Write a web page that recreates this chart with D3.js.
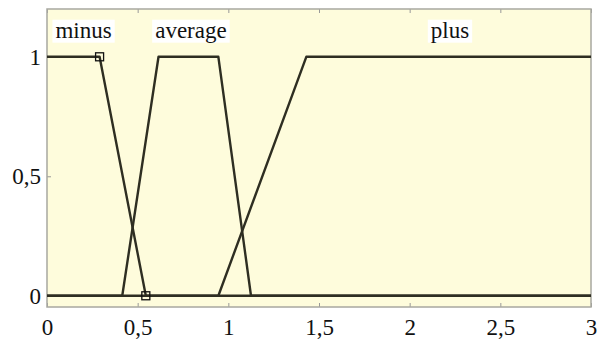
<!DOCTYPE html>
<html>
<head>
<meta charset="utf-8">
<script src="https://cdn.jsdelivr.net/npm/d3@7"></script>
<style>
  body { margin: 0; background: #fff; }
</style>
</head>
<body>
<div class="chart"></div>
<script>
// membership functions (x, mu)
const minusX = [0, 0.29, 0.545, 3];
const minusY = [1, 1, 0, 0];
const averageX = [0, 0.415, 0.615, 0.945, 1.125, 3];
const averageY = [0, 0, 1, 1, 0, 0];
const plusX = [0, 0.945, 1.43, 3];
const plusY = [0, 0, 1, 1];
// square markers
const markerX = [0.29, 0.545];
const markerY = [1, 0];
// term labels
const termNames = ["minus", "average", "plus"];
const termX = [0.03, 0.58, 2.1];
const termY = [1.08, 1.08, 1.08];
// ticks
const xTicks = [0, 0.5, 1, 1.5, 2, 2.5, 3];
const xTickLabels = ["0", "0,5", "1", "1,5", "2", "2,5", "3"];
const yTicks = [0, 0.5, 1];
const yTickLabels = ["0", "0,5", "1"];

const serif = "'Liberation Serif', 'Times New Roman', Times, serif";

const W = 597, H = 342;
const margin = { top: 9, right: 6, bottom: 35, left: 47 };
const width = W - margin.left - margin.right;
const height = H - margin.top - margin.bottom;

const svg = d3.select(".chart").append("svg")
    .attr("width", W)
    .attr("height", H)
    .append("g")
    .attr("transform", `translate(${margin.left},${margin.top})`);

const xScale = d3.scaleLinear().domain([0, 3]).range([0, width]);
const yScale = d3.scaleLinear().domain([-0.047, 1.2]).range([height, 0]);

// plot background
svg.append("rect")
    .attr("width", width).attr("height", height)
    .attr("fill", "#fefcdc");

// axes (ticks inside)
const fmtX = d => xTickLabels[xTicks.indexOf(d)];
const fmtY = d => yTickLabels[yTicks.indexOf(d)];

const xb = svg.append("g").attr("transform", `translate(0,${height})`)
    .call(d3.axisBottom(xScale).tickValues(xTicks).tickFormat(fmtX).tickSizeInner(-4).tickSizeOuter(0).tickPadding(12));
const xt = svg.append("g")
    .call(d3.axisTop(xScale).tickValues(xTicks).tickFormat("").tickSizeInner(-4).tickSizeOuter(0));
const yl = svg.append("g")
    .call(d3.axisLeft(yScale).tickValues(yTicks).tickFormat(fmtY).tickSizeInner(-4).tickSizeOuter(0).tickPadding(6));

[xb, xt, yl].forEach(g => {
    g.attr("font-family", serif);
    g.select(".domain").remove();
    g.selectAll("line").attr("stroke", "#999");
    g.selectAll("text")
        .style("font-family", serif)
        .style("font-size", "23px")
        .attr("fill", "#111");
});
xb.selectAll("text").attr("dy", "0.71em");

// frame
svg.append("rect")
    .attr("width", width).attr("height", height)
    .attr("fill", "none")
    .attr("stroke", "#a8a8a0")
    .attr("stroke-width", 1.5);

// membership lines
const line = d3.line()
    .x(d => xScale(d[0]))
    .y(d => yScale(d[1]));

const series = [
    d3.zip(minusX, minusY),
    d3.zip(averageX, averageY),
    d3.zip(plusX, plusY)
];

svg.selectAll(".mf")
    .data(series)
    .enter().append("path")
    .attr("class", "mf")
    .attr("d", line)
    .attr("fill", "none")
    .attr("stroke", "#2e2e22")
    .attr("stroke-width", 2.4)
    .attr("stroke-linejoin", "round");

// square markers
svg.selectAll(".sq")
    .data(d3.zip(markerX, markerY))
    .enter().append("rect")
    .attr("class", "sq")
    .attr("x", d => xScale(d[0]) - 4)
    .attr("y", d => yScale(d[1]) - 4)
    .attr("width", 8).attr("height", 8)
    .attr("fill", "none")
    .attr("stroke", "#111")
    .attr("stroke-width", 1.3);

// term labels with white boxes
const terms = svg.selectAll(".term")
    .data(termNames)
    .enter().append("g")
    .attr("class", "term")
    .attr("transform", (d, i) => `translate(${xScale(termX[i])},${yScale(termY[i])})`);

terms.append("text")
    .text(d => d)
    .style("font-family", serif)
    .style("font-size", "23px")
    .attr("fill", "#111")
    .attr("x", 3);

terms.each(function () {
    const g = d3.select(this);
    const bb = g.select("text").node().getBBox();
    g.insert("rect", "text")
        .attr("x", bb.x - 3).attr("y", bb.y + 2)
        .attr("width", bb.width + 6).attr("height", bb.height - 2)
        .attr("fill", "#fff");
});
</script>
</body>
</html>
